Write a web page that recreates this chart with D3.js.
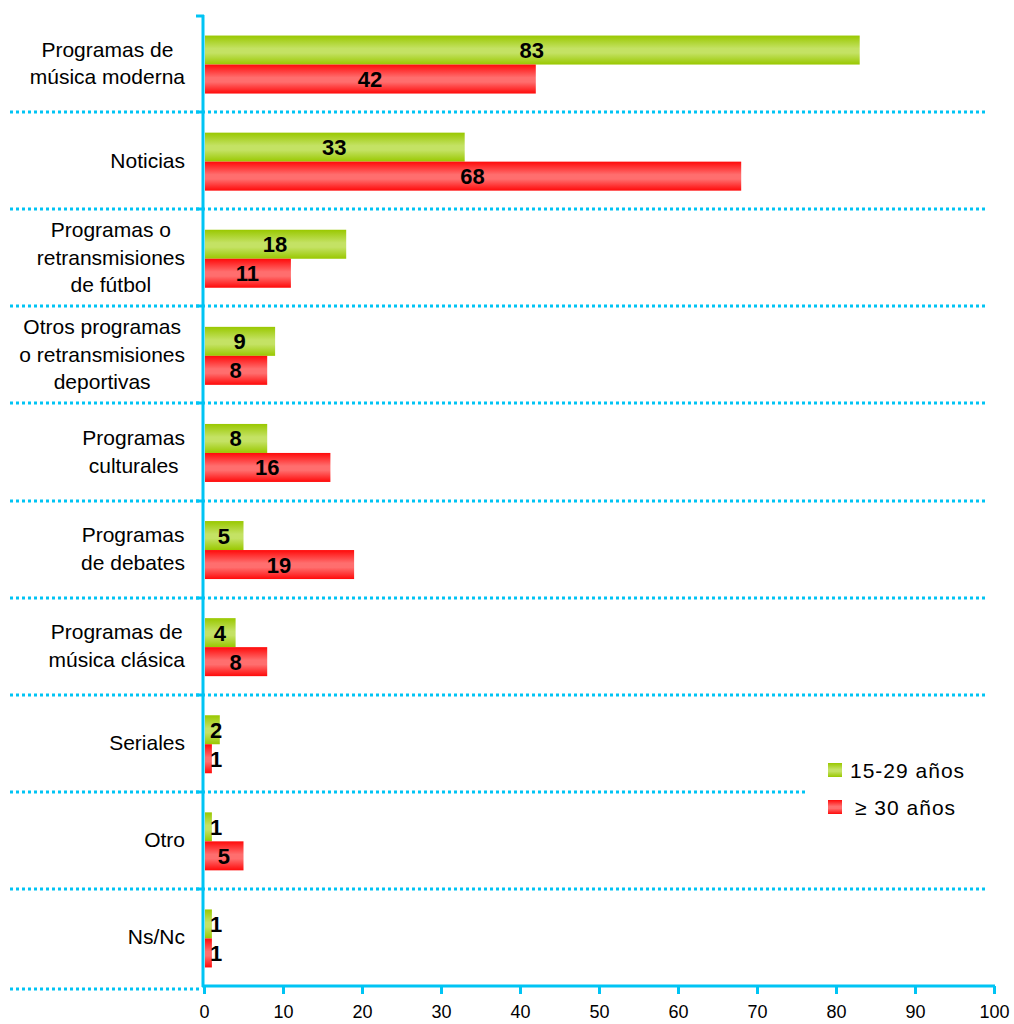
<!DOCTYPE html>
<html>
<head>
<meta charset="utf-8">
<script src="https://cdn.jsdelivr.net/npm/d3@7"></script>
<style>
body { margin: 0; background: #fff; }
text { font-family: "Liberation Sans", Arial, sans-serif; }
</style>
</head>
<body>
<svg id="chart"></svg>
<script>
var categories = [
    ['Programas de', 'música moderna'],
    ['Noticias'],
    ['Programas o', 'retransmisiones', 'de fútbol'],
    ['Otros programas', 'o retransmisiones', 'deportivas'],
    ['Programas', 'culturales'],
    ['Programas', 'de debates'],
    ['Programas de', 'música clásica'],
    ['Seriales'],
    ['Otro'],
    ['Ns/Nc']
]
var young = [83, 33, 18, 9, 8, 5, 4, 2, 1, 1]
var old = [42, 68, 11, 8, 16, 19, 8, 1, 5, 1]
var seriesNames = ['15-29 años', '\u2265 30 años']
var ticks = [0, 10, 20, 30, 40, 50, 60, 70, 80, 90, 100]

var W = 1014, H = 1024
var x0 = 204, x1 = 994, y0 = 15, y1 = 986
var cyan = '#00c4f4'

var svg = d3.select('#chart').attr('width', W).attr('height', H)

var defs = svg.append('defs')
function grad(id, edge, mid) {
    var g = defs.append('linearGradient').attr('id', id)
        .attr('x1', 0).attr('y1', 0).attr('x2', 0).attr('y2', 1)
    g.append('stop').attr('offset', '0%').attr('stop-color', edge)
    g.append('stop').attr('offset', '45%').attr('stop-color', mid)
    g.append('stop').attr('offset', '60%').attr('stop-color', mid)
    g.append('stop').attr('offset', '100%').attr('stop-color', edge)
}
grad('gGreen', '#99c800', '#c4e264')
grad('gRed', '#ff0a0a', '#ff6e6e')

var x = d3.scaleLinear().domain([0, 100]).range([x0, x1])
var y = d3.scaleBand().domain(d3.range(categories.length)).range([y0, y1])
var inner = d3.scaleBand().domain([0, 1]).range([0, 58])

var sepY = d => Math.round(y(d - 1) + y.bandwidth())

// dotted separators
var seps = d3.range(1, categories.length + 1)
svg.selectAll('line.sep')
    .data(seps)
    .enter()
    .append('line')
    .attr('x1', 10)
    .attr('x2', d => d == categories.length ? x0 - 4 : (d == 8 ? 808 : 988))
    .attr('y1', d => d == categories.length ? y1 + 3 : sepY(d))
    .attr('y2', d => d == categories.length ? y1 + 3 : sepY(d))
    .attr('stroke', cyan)
    .attr('stroke-width', 3)
    .attr('stroke-dasharray', '3,3')

// bars
var groups = svg.selectAll('g.cat')
    .data(categories)
    .enter()
    .append('g')
    .attr('transform', (d, i) => 'translate(0,' + (y(i) + y.bandwidth() / 2 - 28) + ')')

groups.each(function (d, i) {
    var obj = d3.select(this)
    var vals = [young[i], old[i]]
    vals.forEach(function (v, k) {
        obj.append('rect')
            .attr('x', x0 + 1)
            .attr('y', inner(k))
            .attr('width', x(v) - x0 - 1)
            .attr('height', inner.bandwidth())
            .attr('fill', k == 0 ? 'url(#gGreen)' : 'url(#gRed)')
        var cx = Math.max((x(v) + x0) / 2, x0 + 12)
        obj.append('text')
            .attr('x', cx)
            .attr('y', inner(k) + inner.bandwidth() / 2 + 8)
            .attr('text-anchor', 'middle')
            .attr('font-size', 22)
            .attr('font-weight', 'bold')
            .attr('fill', '#000')
            .text(v)
    })
    // category label: block right-aligned, lines centred inside it
    var n = d.length
    var lines = obj.selectAll('text.lab')
        .data(d)
        .enter()
        .append('text')
        .attr('class', 'lab')
        .attr('y', (t, j) => 28 + 7 + (j - (n - 1) / 2) * 27.5)
        .attr('text-anchor', 'middle')
        .attr('font-size', 21)
        .attr('fill', '#000')
        .text(t => t)
    var maxW = d3.max(lines.nodes(), nd => nd.getComputedTextLength())
    lines.attr('x', 185 - maxW / 2)
})

// legend
var leg = svg.append('g').attr('transform', 'translate(808,752)')
seriesNames.forEach(function (s, k) {
    leg.append('rect')
        .attr('x', 20).attr('y', 11 + k * 37)
        .attr('width', 14).attr('height', 14)
        .attr('fill', k == 0 ? 'url(#gGreen)' : 'url(#gRed)')
    leg.append('text')
        .attr('x', k == 0 ? 42 : 47).attr('y', 26 + k * 37)
        .attr('font-size', 21)
        .attr('letter-spacing', 1)
        .attr('fill', '#000')
        .text(s)
})

// axes
svg.append('line')
    .attr('x1', x0 - 1).attr('x2', x0 - 1)
    .attr('y1', y0).attr('y2', y1 + 1)
    .attr('stroke', cyan).attr('stroke-width', 3)
svg.selectAll('line.ytick')
    .data(d3.range(0, categories.length))
    .enter()
    .append('line')
    .attr('x1', x0 - 8).attr('x2', x0)
    .attr('y1', d => d == 0 ? y0 + 1 : sepY(d))
    .attr('y2', d => d == 0 ? y0 + 1 : sepY(d))
    .attr('stroke', cyan).attr('stroke-width', 3)

var xAxis = svg.append('g')
    .attr('transform', 'translate(0,' + y1 + ')')
    .call(d3.axisBottom(x).tickValues(ticks).tickSize(8).tickPadding(11).tickFormat(d3.format('d')))
xAxis.select('.domain').attr('stroke', cyan).attr('stroke-width', 3).attr('d', 'M' + (x0 - 2) + ',0H' + (x1 + 1))
xAxis.selectAll('.tick line').attr('stroke', cyan).attr('stroke-width', 3)
xAxis.selectAll('.tick text')
    .attr('font-size', 18)
    .attr('fill', '#000')
    .style('font-family', '"Liberation Sans", Arial, sans-serif')
</script>
</body>
</html>
